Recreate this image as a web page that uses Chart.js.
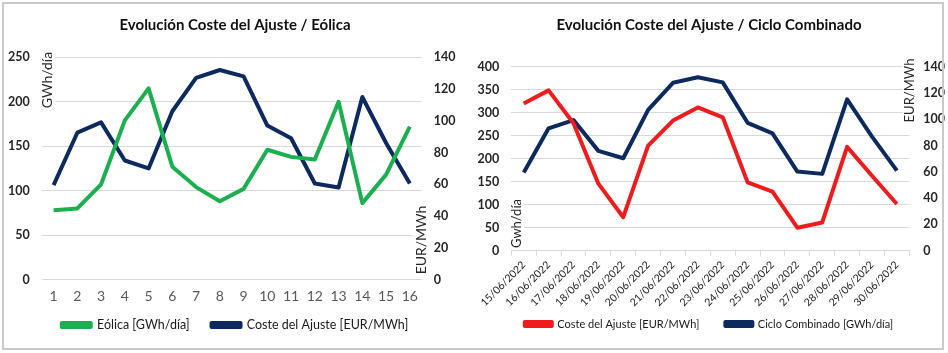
<!DOCTYPE html>
<html><head><meta charset="utf-8">
<script src="https://cdn.jsdelivr.net/npm/chart.js@4.4.1/dist/chart.umd.min.js"></script>
<style>
html,body{margin:0;padding:0;background:#fff;}
#wrap{position:relative;width:948px;height:353px;overflow:hidden;background:#fff;}
#frame{position:absolute;left:2px;top:2px;width:938px;height:344px;border:2px solid #C9C9C9;pointer-events:none;}
#c1box{position:absolute;left:0;top:0;width:470px;height:353px;}
#c2box{position:absolute;left:470px;top:0;width:478px;height:353px;}
canvas{display:block;}
</style></head>
<body>
<div id="wrap">
<div id="c1box"><canvas id="c1" width="470" height="353"></canvas></div>
<div id="c2box"><canvas id="c2" width="478" height="353"></canvas></div>
<div id="frame"></div>
</div>
<script>
// ---- Chart 1: Evolución Coste del Ajuste / Eólica ----
const dayLabels = ['1','2','3','4','5','6','7','8','9','10','11','12','13','14','15','16'];
const eolica = [78, 80, 107, 179, 215, 127, 104, 88, 102, 146, 138, 135, 200, 86, 118, 172];
const costeAjusteA = [59.5, 92.5, 99, 75, 70, 106, 127, 132, 128, 97, 89, 60.5, 58, 115, 86, 60.5];
const leftTicksA = [0, 50, 100, 150, 200, 250];
const rightTicksA = [0, 20, 40, 60, 80, 100, 120, 140];

// ---- Chart 2: Evolución Coste del Ajuste / Ciclo Combinado ----
const dateLabels = ['15/06/2022','16/06/2022','17/06/2022','18/06/2022','19/06/2022','20/06/2022','21/06/2022','22/06/2022','23/06/2022','24/06/2022','25/06/2022','26/06/2022','27/06/2022','28/06/2022','29/06/2022','30/06/2022'];
const costeAjusteB = [112, 122, 97, 51, 25.5, 80, 99, 109, 101.5, 52, 45, 17.5, 21.5, 79, 57, 35.5];
const cicloCombinado = [170, 266, 284, 217, 201, 306, 365, 377, 366, 278, 255, 172, 167, 329, 248, 174];
const leftTicksB = [0, 50, 100, 150, 200, 250, 300, 350, 400];
const rightTicksB = [0, 20, 40, 60, 80, 100, 120, 140];

const FONT = "Lato, 'Open Sans', sans-serif";
const GREEN = '#1BAF50', NAVY = '#0D2A5E', RED = '#EE1C1C';
const GRID = '#D9D9D9', TXT = '#262626';

const axisTitles = {
  id: 'axisTitles',
  beforeDatasetsDraw(chart, args, opts) {
    const ctx = chart.ctx;
    (opts.items || []).forEach(it => {
      ctx.save();
      ctx.font = it.font;
      ctx.translate(it.x, it.y);
      ctx.rotate(-Math.PI / 2);
      const w = ctx.measureText(it.text).width;
      ctx.fillStyle = '#ffffff';
      ctx.fillRect(-w / 2 - 2, -it.h / 2, w + 4, it.h);
      ctx.fillStyle = TXT;
      ctx.textAlign = 'center';
      ctx.textBaseline = 'middle';
      ctx.fillText(it.text, 0, 0);
      ctx.restore();
    });
  }
};

function fixedWidth(w) { return s => { s.width = w; }; }
function fixedHeight(h) { return s => { s.height = h; s._computeLabelArea = () => undefined; }; }

function lineDs(label, data, color, axis) {
  return { label, data, borderColor: color, backgroundColor: color, borderWidth: 4,
    pointRadius: 0, pointHoverRadius: 0, tension: 0, fill: false, yAxisID: axis,
    borderJoinStyle: 'round', borderCapStyle: 'butt' };
}

const yTickFont = { family: FONT, size: 12.5, weight: 'bold' };

new Chart(document.getElementById('c1'), {
  type: 'line',
  data: {
    labels: dayLabels,
    datasets: [
      lineDs('Eólica [GWh/día]', eolica, GREEN, 'yL'),
      lineDs('Coste del Ajuste [EUR/MWh]', costeAjusteA, NAVY, 'yR')
    ]
  },
  options: {
    responsive: false, animation: false, devicePixelRatio: 1,
    layout: { padding: { left: 0, right: 0, top: 0, bottom: 11.75 } },
    plugins: {
      title: { display: true, text: 'Evolución Coste del Ajuste / Eólica', color: '#111',
        font: { family: FONT, size: 15, weight: 'bold', lineHeight: 1.2 }, padding: { top: 16, bottom: 23.3 } },
      legend: { position: 'bottom', labels: { boxWidth: 29, boxHeight: 4, padding: 22, color: '#1a1a1a',
        font: { family: FONT, size: 12.5 } } },
      tooltip: { enabled: false },
      axisTitles: { items: [
        { text: 'GWh/día', x: 47, y: 80, h: 16, font: "14px " + FONT },
        { text: 'EUR/MWh', x: 421, y: 240, h: 16, font: "14px " + FONT }
      ] }
    },
    scales: {
      x: { offset: true, afterFit: fixedHeight(17.2),
        grid: { display: false, drawTicks: false }, border: { display: false },
        ticks: { color: '#595959', font: { family: FONT, size: 14 }, padding: 9, maxRotation: 0, autoSkip: false } },
      yL: { position: 'left', min: 0, max: 250, afterFit: fixedWidth(41.7),
        afterBuildTicks: s => { s.ticks = leftTicksA.map(v => ({ value: v })); },
        grid: { color: GRID, lineWidth: 1, drawTicks: false }, border: { display: false },
        ticks: { color: TXT, font: yTickFont, padding: 12 } },
      yR: { position: 'right', min: 0, max: 140, afterFit: fixedWidth(48.3),
        afterBuildTicks: s => { s.ticks = rightTicksA.map(v => ({ value: v })); },
        grid: { drawOnChartArea: false, drawTicks: false }, border: { display: false },
        ticks: { color: TXT, font: yTickFont, padding: 12 } }
    }
  },
  plugins: [axisTitles]
});

new Chart(document.getElementById('c2'), {
  type: 'line',
  data: {
    labels: dateLabels,
    datasets: [
      lineDs('Coste del Ajuste [EUR/MWh]', costeAjusteB, RED, 'yR'),
      lineDs('Ciclo Combinado [GWh/día]', cicloCombinado, NAVY, 'yL')
    ]
  },
  options: {
    responsive: false, animation: false, devicePixelRatio: 1,
    layout: { padding: { left: 0, right: 0, top: 0, bottom: 13.5 } },
    plugins: {
      title: { display: true, text: 'Evolución Coste del Ajuste / Ciclo Combinado', color: '#111',
        font: { family: FONT, size: 15, weight: 'bold', lineHeight: 1.2 }, padding: { top: 16, bottom: 32.7 } },
      legend: { position: 'bottom', labels: { boxWidth: 27, boxHeight: 4, padding: 26, color: '#1a1a1a',
        font: { family: FONT, size: 11 } } },
      tooltip: { enabled: false },
      axisTitles: { items: [
        { text: 'Gwh/día', x: 46.7, y: 223.5, h: 15, font: "13px " + FONT },
        { text: 'EUR/MWh', x: 440, y: 90.5, h: 15, font: "13px " + FONT }
      ] }
    },
    scales: {
      x: { offset: true, afterFit: fixedHeight(41.8),
        grid: { offset: true, drawOnChartArea: false, drawTicks: true, tickLength: 5, color: GRID },
        border: { display: true, color: GRID, width: 1 },
        ticks: { color: '#1a1a1a', font: { family: FONT, size: 10.5 }, padding: 3, minRotation: 45, maxRotation: 45, autoSkip: false } },
      yL: { position: 'left', min: 0, max: 400, afterFit: fixedWidth(41.3),
        afterBuildTicks: s => { s.ticks = leftTicksB.map(v => ({ value: v })); },
        grid: { color: GRID, lineWidth: 1, drawTicks: false }, border: { display: false },
        ticks: { color: TXT, font: yTickFont, padding: 12 } },
      yR: { position: 'right', min: 0, max: 140, afterFit: fixedWidth(38.7),
        afterBuildTicks: s => { s.ticks = rightTicksB.map(v => ({ value: v })); },
        grid: { drawOnChartArea: false, drawTicks: false }, border: { display: false },
        ticks: { color: TXT, font: yTickFont, padding: 14 } }
    }
  },
  plugins: [axisTitles]
});
</script>
</body></html>
